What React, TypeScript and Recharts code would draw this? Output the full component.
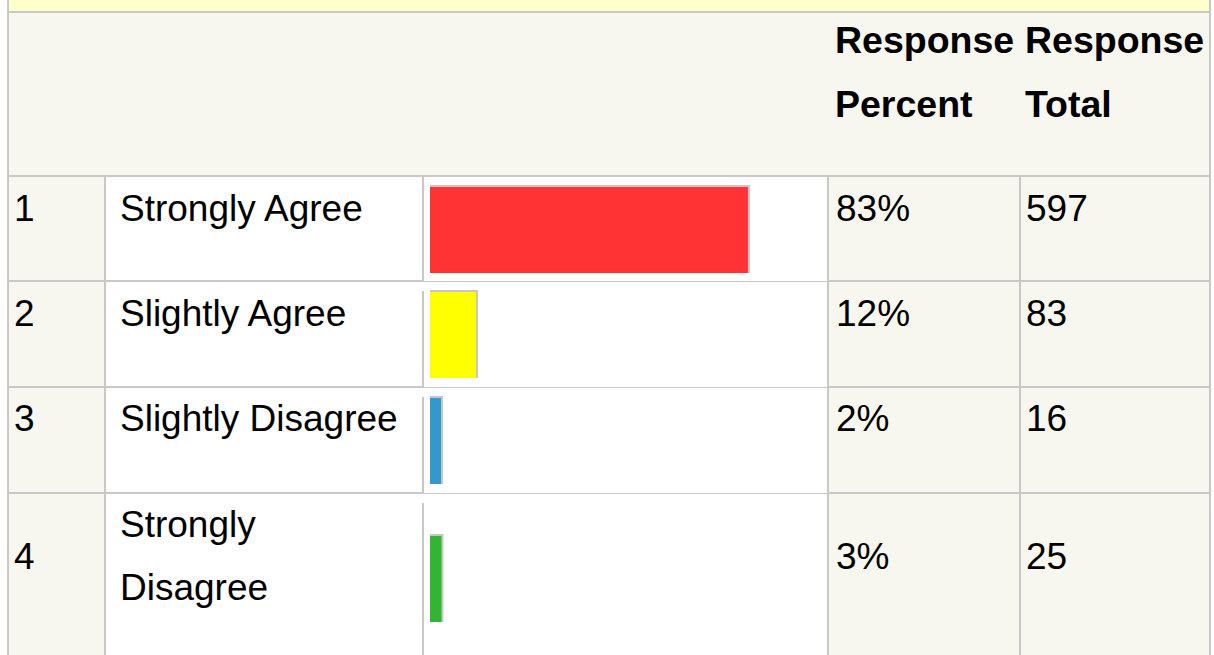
import { BarChart, Bar, XAxis, YAxis } from 'recharts';

const rowNumbers = ['1', '2', '3', '4'];
const answerLabels = ['Strongly Agree', 'Slightly Agree', 'Slightly Disagree', 'Strongly Disagree'];
const responsePercents = [83, 12, 2, 3];
const responseTotals = [597, 83, 16, 25];
const barColors = ['#ff3333', '#ffff00', '#3399cc', '#33b533'];
const headerLines = [
  ['Response', 'Percent'],
  ['Response', 'Total'],
];

const FONT = '"Liberation Sans", Arial, Helvetica, sans-serif';
const LINE = '#c8c8c8';
const BEIGE = '#f7f7f0';

// layout of the table (pixels)
const colX = [9, 106, 424, 829, 1021];
const colW = [95, 316, 403, 190, 188];
const rowTop = [177, 282, 388, 494];
const rowH = [103, 104, 104, 170];
const textTop = [177.4, 282.4, 387.4, 493.4];
const midTextTop = [177.4, 282.4, 387.4, 525.2];
const barTop = [187, 292, 398, 536];

function ShadowBar(props: any) {
  const { x, y, width, height, fill } = props;
  return (
    <g>
      <rect x={x} y={y - 2} width={width + 2} height={height + 2} fill="#c6c6c6" />
      <rect x={x} y={y} width={width} height={height} fill={fill} />
    </g>
  );
}

function RowBar({ i }: { i: number }) {
  const data = [{ name: answerLabels[i], value: responsePercents[i] }];
  return (
    <div style={{ position: 'absolute', left: 430, top: barTop[i] - 3 }}>
      <BarChart
        width={383}
        height={92}
        data={data}
        layout="vertical"
        margin={{ top: 0, right: 0, bottom: 0, left: 0 }}
      >
        <XAxis type="number" domain={[0, 100]} hide />
        <YAxis type="category" dataKey="name" hide />
        <Bar
          dataKey="value"
          fill={barColors[i]}
          barSize={86}
          minPointSize={11}
          shape={ShadowBar}
          isAnimationActive={false}
        />
      </BarChart>
    </div>
  );
}

const textStyle = {
  position: 'absolute' as const,
  fontFamily: FONT,
  fontSize: 37,
  lineHeight: '63px',
  color: '#000',
  whiteSpace: 'nowrap' as const,
};

export default function App() {
  return (
    <div
      style={{
        position: 'absolute',
        left: 0,
        top: 0,
        width: 1214,
        height: 655,
        overflow: 'hidden',
        background: '#fff',
      }}
    >
      {/* grid lines show through the gaps between cells */}
      <div style={{ position: 'absolute', left: 7, top: 0, width: 1204, height: 670, background: LINE }} />
      <div style={{ position: 'absolute', left: 9, top: 0, width: 1200, height: 11, background: '#ffffcc' }} />
      <div style={{ position: 'absolute', left: 9, top: 13, width: 1200, height: 162, background: BEIGE }} />

      {rowTop.map((t, r) =>
        colW.map((w, c) => {
          const isBar = c === 2;
          // bar column has thinner (1px) row lines
          const h = isBar && r < 3 ? rowH[r] + 1 : rowH[r];
          return (
            <div
              key={`${r}-${c}`}
              style={{
                position: 'absolute',
                left: colX[c],
                top: t,
                width: w,
                height: h,
                background: c === 1 || c === 2 ? '#fff' : BEIGE,
              }}
            />
          );
        })
      )}
      {/* gap in the bar cell's left edge */}
      {rowTop.slice(1).map((t, r) => (
        <div key={`gap-${r}`} style={{ position: 'absolute', left: 422, top: t, width: 2, height: 9, background: '#fff' }} />
      ))}

      {headerLines.map((lines, k) =>
        lines.map((s, j) => (
          <div
            key={`h-${k}-${j}`}
            style={{
              ...textStyle,
              fontWeight: 'bold',
              fontSize: 37.5,
              lineHeight: '64px',
              left: k === 0 ? 835 : 1025,
              top: 8.3 + j * 64,
            }}
          >
            {s}
          </div>
        ))
      )}

      {rowNumbers.map((n, i) => (
        <div key={`n-${i}`}>
          <div style={{ ...textStyle, left: 14, top: midTextTop[i] }}>{n}</div>
          <div style={{ ...textStyle, whiteSpace: 'normal', width: 286, left: 120, top: textTop[i] }}>
            {answerLabels[i]}
          </div>
          <div style={{ ...textStyle, left: 836, top: midTextTop[i] }}>{responsePercents[i]}%</div>
          <div style={{ ...textStyle, left: 1026, top: midTextTop[i] }}>{responseTotals[i]}</div>
          <RowBar i={i} />
        </div>
      ))}
    </div>
  );
}
